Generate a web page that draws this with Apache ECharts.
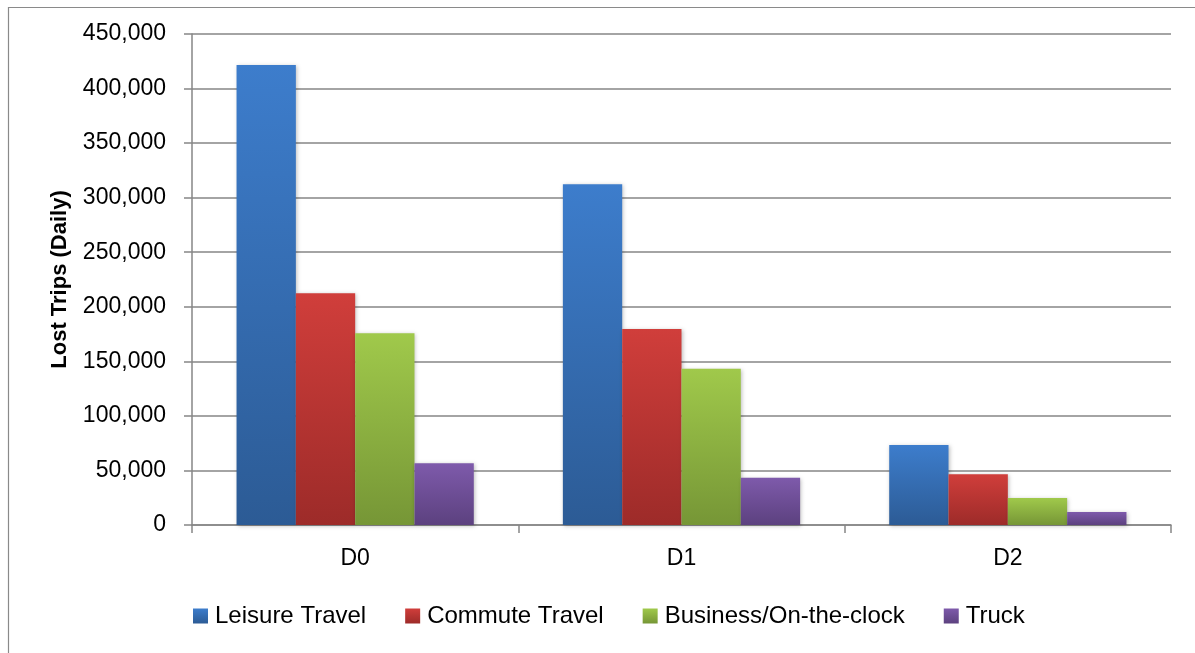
<!DOCTYPE html>
<html>
<head>
<meta charset="utf-8">
<script src="https://cdn.jsdelivr.net/npm/echarts@6/dist/echarts.min.js"></script>
<style>html,body{margin:0;padding:0;background:#fff;}#c{width:1195px;height:653px;}</style>
</head>
<body>
<div id="c"></div>
<script>
const categories = ['D0', 'D1', 'D2'];
const seriesNames = ['Leisure Travel', 'Commute Travel', 'Business/On-the-clock', 'Truck'];
const leisure = [421500, 312300, 73300];
const commute = [212400, 179600, 46500];
const business = [175700, 143300, 24700];
const truck = [56600, 43400, 11900];
const yTicks = { min: 0, max: 450000, interval: 50000 };

const gradients = [
  ['#3d7dcc', '#2c5b95'],
  ['#d03e3b', '#9d2b29'],
  ['#a0c94b', '#769636'],
  ['#7e5aab', '#5c417f']
];
function grad(c) {
  return new echarts.graphic.LinearGradient(0, 0, 0, 1, [
    { offset: 0, color: c[0] }, { offset: 1, color: c[1] }
  ]);
}
const dataSets = [leisure, commute, business, truck];
const font = '"Liberation Sans", Arial, sans-serif';

const chart = echarts.init(document.getElementById('c'), null, { renderer: 'canvas' });
chart.setOption({
  backgroundColor: '#fff',
  animation: false,
  graphic: [{
    type: 'rect', left: 6, top: 5, shape: { width: 1210, height: 670 },
    style: { fill: 'none', stroke: '#8a8a8a', lineWidth: 1.2 }, silent: true, z: -1
  }],
  grid: { left: 192, right: 24, top: 34, bottom: 128, containLabel: false },
  legend: {
    top: 604, left: 193, padding: 0,
    itemWidth: 15, itemHeight: 15, itemGap: 39,
    icon: 'rect',
    textStyle: { fontFamily: font, fontSize: 24, lineHeight: 24, color: '#000', padding: [0, 0, 0, 2] },
    data: seriesNames
  },
  xAxis: {
    type: 'category', data: categories,
    axisLine: { lineStyle: { color: '#868686', width: 1.5 } },
    axisTick: { show: true, length: 8, lineStyle: { color: '#868686', width: 1.5 } },
    axisLabel: { fontFamily: font, fontSize: 23, color: '#000', margin: 22 }
  },
  yAxis: {
    type: 'value', min: yTicks.min, max: yTicks.max, interval: yTicks.interval,
    name: 'Lost Trips (Daily)', nameLocation: 'middle', nameGap: 121,
    nameTextStyle: { fontFamily: font, fontSize: 22, fontWeight: 'bold', color: '#000' },
    axisLine: { show: true, lineStyle: { color: '#868686', width: 1.5 } },
    axisTick: { show: true, length: 8, lineStyle: { color: '#868686', width: 1.5 } },
    splitLine: { lineStyle: { color: '#868686', width: 1.5 } },
    axisLabel: {
      fontFamily: font, fontSize: 23, color: '#000', margin: 26,
      formatter: v => v.toLocaleString('en-US')
    }
  },
  series: seriesNames.map((n, i) => ({
    name: n, type: 'bar', data: dataSets[i],
    barGap: '0%', barCategoryGap: '27.3%',
    itemStyle: {
      color: grad(gradients[i]),
      shadowColor: 'rgba(0,0,0,0.25)', shadowBlur: 4, shadowOffsetX: 1, shadowOffsetY: 1
    }
  }))
});
</script>
</body>
</html>
